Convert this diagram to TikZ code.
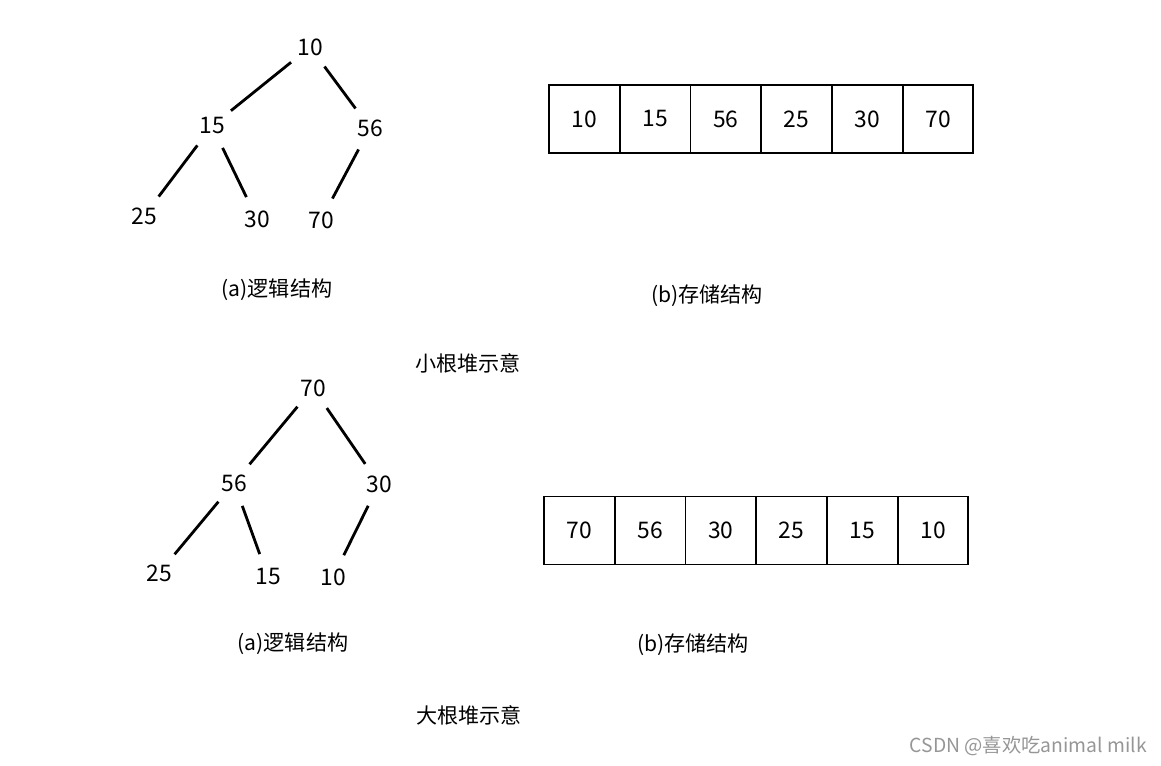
\documentclass[tikz,border=0pt]{standalone}
\usepackage{fontspec}
\setmainfont{Noto Sans CJK SC}
\usetikzlibrary{positioning}
\definecolor{vizjel}{RGB}{150,150,150}
\tikzset{
  kulcs/.style={circle,inner sep=0pt,minimum size=0.96cm,font=\fontsize{13}{15}\selectfont},
  el/.style={line width=1.6pt},
  cella/.style={draw,line width=1.1pt,outer sep=0pt,inner sep=0pt,
    minimum width=1.415cm,minimum height=1.36cm,font=\fontsize{13}{15}\selectfont},
  cim/.style={font=\fontsize{12}{14}\selectfont},
}

\begin{document}
\begin{tikzpicture}[x=0.02cm,y=-0.02cm]
  \useasboundingbox (0,0) rectangle (1161,766);
  % kis gyoker kupac: fa
  \node[kulcs] (k10) at (310,47) {10};
  \node[kulcs] (k15) at (212,126) {15};
  \node[kulcs] (k56) at (370,128) {56};
  \node[kulcs] (k25) at (144,216) {25};
  \node[kulcs] (k30) at (257,219) {30};
  \node[kulcs] (k70) at (321,220) {70};
  \draw[el] (k10) -- (k15);
  \draw[el] (k10) -- (k56);
  \draw[el] (k15) -- (k25);
  \draw[el] (k15) -- (k30);
  \draw[el] (k56) -- (k70);
  % kis gyoker kupac: tomb
  \node[cella] (t1) at (584.4,119) {10};
  \node[cella,right=0pt of t1] (t2) {15};
  \node[cella,right=0pt of t2] (t3) {56};
  \node[cella,right=0pt of t3] (t4) {25};
  \node[cella,right=0pt of t4] (t5) {30};
  \node[cella,right=0pt of t5] (t6) {70};
  \node[cim] (ca1) at (277,290) {(a)逻辑结构};
  \node[cim] (cb1) at (707,296) {(b)存储结构};
  \node[cim] (kis) at (468,363) {小根堆示意};
  % nagy gyoker kupac: fa
  \node[kulcs] (n70) at (313,388) {70};
  \node[kulcs] (n56) at (234,483) {56};
  \node[kulcs] (n30) at (379,484) {30};
  \node[kulcs] (n25) at (159,573) {25};
  \node[kulcs] (n15) at (268,577) {15};
  \node[kulcs] (n10) at (333,577) {10};
  \draw[el] (n70) -- (n56);
  \draw[el] (n70) -- (n30);
  \draw[el] (n56) -- (n25);
  \draw[el] (n56) -- (n15);
  \draw[el] (n30) -- (n10);
  % nagy gyoker kupac: tomb
  \node[cella] (s1) at (579.4,530.5) {70};
  \node[cella,right=0pt of s1] (s2) {56};
  \node[cella,right=0pt of s2] (s3) {30};
  \node[cella,right=0pt of s3] (s4) {25};
  \node[cella,right=0pt of s4] (s5) {15};
  \node[cella,right=0pt of s5] (s6) {10};
  \node[cim] (ca2) at (293,644) {(a)逻辑结构};
  \node[cim] (cb2) at (693,645) {(b)存储结构};
  \node[cim] (nagy) at (469,715) {大根堆示意};
  \node[font=\fontsize{11}{13}\selectfont,text=vizjel,anchor=east] (jel) at (1153,746) {CSDN @喜欢吃animal milk};
\end{tikzpicture}
\end{document}
